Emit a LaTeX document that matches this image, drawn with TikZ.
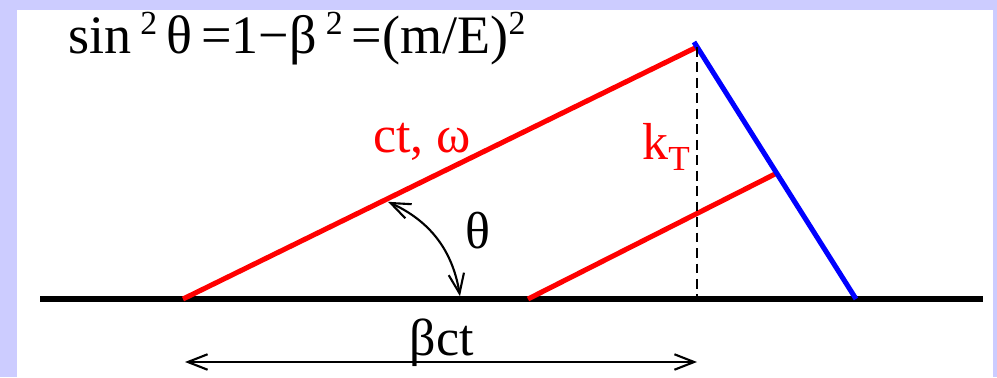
\documentclass[tikz,border=0pt]{standalone}
\usepackage{fontspec}
\setmainfont{Liberation Serif}
\newfontfamily\timesfont{Liberation Serif}
\usetikzlibrary{arrows.meta, positioning, calc}
\definecolor{frameLav}{HTML}{CCCCFF}
\definecolor{lineRed}{HTML}{FF0000}
\definecolor{lineBlue}{HTML}{0000FF}
\newcommand{\upidx}[1]{\raisebox{0.34em}{\fontsize{24}{24}\selectfont #1}}
\newcommand{\dnidx}[1]{\raisebox{-0.22em}{\fontsize{25}{25}\selectfont #1}}

\begin{document}
\begin{tikzpicture}[
    thick line/.style={line width=3.6pt},
    lbl/.style={font=\timesfont\fontsize{37}{44}\selectfont, inner sep=0pt},
    barb/.style={{Straight Barb[length=14pt, width=11pt]}-{Straight Barb[length=14pt, width=11pt]}, line width=1.5pt}
  ]
  % frame
  \useasboundingbox (0,0) rectangle (24.925,9.425);
  \fill[frameLav] (0,0) rectangle (0.425,9.425);
  \fill[frameLav] (0,9.175) rectangle (24.925,9.425);
  \fill[frameLav] (24.825,0) rectangle (24.925,9.425);

  % points
  \coordinate (gl) at (1.0,1.95);
  \coordinate (gr) at (24.575,1.95);
  \coordinate (vtx) at (4.575,1.95);
  \coordinate (top) at (17.425,8.25);
  \coordinate (btop) at (17.35,8.375);
  \coordinate (bbot) at (21.4,1.95);
  \coordinate (kl) at (13.2,1.95);
  \coordinate (kr) at (19.425,5.1);
  \coordinate (foot) at (17.425,1.95);

  % lines
  \draw[thick line, black] (gl) -- (gr);
  \draw[thick line, lineRed] (vtx) -- (top);
  \draw[thick line, lineRed] (kl) -- (kr);
  \draw[thick line, lineBlue] (btop) -- (bbot);
  \draw[line width=1.6pt, dash pattern=on 7pt off 4pt] (top) -- (foot);

  % angle
  \coordinate (a1) at (9.7,4.38);
  \coordinate (a2) at (11.5,2.02);
  \draw[barb] (a1) to[bend left=28] (a2);

  % base length
  \coordinate (bl) at (4.625,0.375);
  \coordinate (br) at (17.425,0.375);
  \draw[barb] (bl) -- (br);

  % labels
  \node[lbl, font=\timesfont\fontsize{38.5}{44}\selectfont, anchor=base west] (form) at (1.7,8.1)
    {sin\,\upidx{2}\,θ\,=1−β\,\upidx{2}\,=(m/E)\upidx{2}};
  \node[lbl, text=lineRed, anchor=base] (ctw) at (10.55,5.62) {ct, ω};
  \node[lbl, text=lineRed, anchor=base] (kt) at (16.65,5.45) {k\dnidx{T}};
  \node[lbl, anchor=base] (th) at (11.95,3.22) {θ};
  \node[lbl, anchor=base] (bct) at (11.05,0.55) {βct};
\end{tikzpicture}
\end{document}
